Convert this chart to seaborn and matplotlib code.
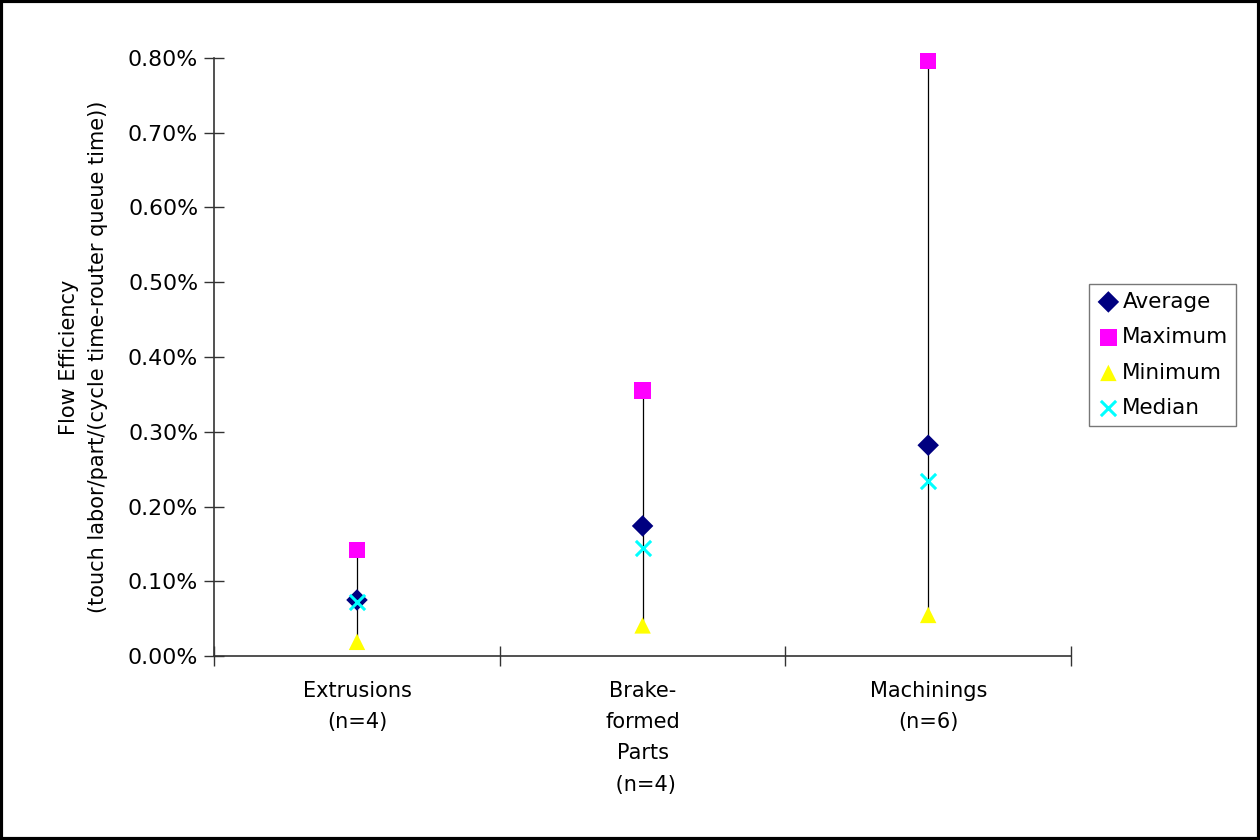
import numpy as np
import pandas as pd
import matplotlib
matplotlib.use("Agg")
import matplotlib.pyplot as plt
import seaborn as sns
from matplotlib.ticker import FuncFormatter, FixedLocator

# Dados (em %)
categorias = ["Extrusions\n(n=4)", "Brake-\nformed\nParts\n (n=4)", "Machinings\n(n=6)"]
media = [0.075, 0.174, 0.282]
maximo = [0.142, 0.355, 0.796]
minimo = [0.019, 0.041, 0.055]
mediana = [0.072, 0.144, 0.234]

series = ["Average", "Maximum", "Minimum", "Median"]
cores = {"Average": "#000080", "Maximum": "#FF00FF", "Minimum": "#FFFF00", "Median": "#00FFFF"}
marcadores = {"Average": "D", "Maximum": "s", "Minimum": "^", "Median": "X"}

linhas = []
for nome, vals in zip(series, [media, maximo, minimo, mediana]):
    for i, v in enumerate(vals):
        linhas.append({"pos": i, "valor": v, "serie": nome})
df = pd.DataFrame(linhas)

sns.set_style("white")
plt.rcParams["font.family"] = ["DejaVu Sans"]
plt.rcParams["text.color"] = "black"
plt.rcParams["axes.labelcolor"] = "black"
plt.rcParams["xtick.color"] = "black"
plt.rcParams["ytick.color"] = "black"

fig = plt.figure(figsize=(12.6, 8.4), dpi=100)
ax = fig.add_axes([0.170, 0.219, 0.680, 0.712])

# Linhas máx-mín
ax.vlines(range(len(categorias)), minimo, maximo, color="black", linewidth=0.9, zorder=1)

for nome in series:
    sub = df[df["serie"] == nome]
    m = marcadores[nome]
    if m == "X":
        ax.scatter(sub["pos"], sub["valor"], marker="x", s=120, color=cores[nome],
                   linewidths=2.2, zorder=3, label=nome, clip_on=False)
    else:
        sns.scatterplot(data=sub, x="pos", y="valor", marker=m, color=cores[nome],
                        s=140 if m != "D" else 120, edgecolor="none", ax=ax, zorder=3,
                        label=nome, clip_on=False)

ax.set_xlim(-0.5, 2.5)
ax.set_ylim(0, 0.80)
ax.yaxis.set_major_locator(FixedLocator(np.arange(0, 0.81, 0.1)))
ax.yaxis.set_major_formatter(FuncFormatter(lambda v, p: f"{v:.2f}%"))
ax.xaxis.set_major_locator(FixedLocator([-0.5, 0.5, 1.5, 2.5]))
ax.xaxis.set_major_formatter(FuncFormatter(lambda v, p: ""))
ax.xaxis.set_minor_locator(FixedLocator([0, 1, 2]))
ax.set_xticklabels(categorias, minor=True)
ax.tick_params(axis="x", which="minor", bottom=False, length=0, pad=18, labelsize=15)
ax.tick_params(axis="x", which="major", bottom=True, direction="inout", length=15, width=1,
               color="#333333")
ax.tick_params(axis="y", left=True, direction="inout", length=15, width=1, color="#333333",
               labelsize=15.8, pad=4)
for lbl in ax.get_xticklabels(minor=True):
    lbl.set_linespacing(1.7)

for s in ["top", "right"]:
    ax.spines[s].set_visible(False)
for s in ["left", "bottom"]:
    ax.spines[s].set_color("#333333")
    ax.spines[s].set_linewidth(1.2)

ax.set_xlabel("")
ax.set_ylabel("Flow Efficiency\n(touch labor/part/(cycle time-router queue time))",
              fontsize=15, labelpad=14, linespacing=1.6)

leg = ax.legend(loc="upper left", bbox_to_anchor=(1.021, 0.622), frameon=True,
                fancybox=False, fontsize=15.5, handletextpad=0.1, handlelength=1.1,
                borderpad=0.35, labelspacing=0.72, borderaxespad=0, markerscale=1.0)
leg.get_frame().set_edgecolor("#555555")
leg.get_frame().set_linewidth(1)

# Borda da figura
fig.patches.append(plt.Rectangle((0.001, 0.001), 0.998, 0.998, transform=fig.transFigure,
                                 fill=False, edgecolor="black", linewidth=3))

fig.savefig("out.png", dpi=100)
